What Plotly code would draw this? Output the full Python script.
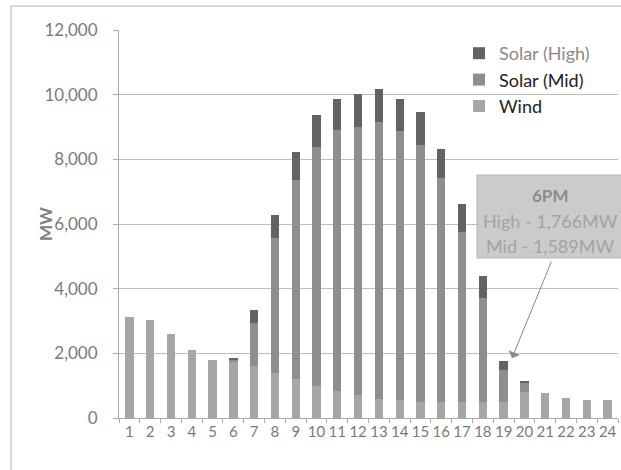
import plotly.graph_objects as go

hours = [str(h) for h in range(1, 25)]
wind = [3120, 3030, 2600, 2100, 1800, 1750, 1600, 1400, 1200, 1000, 850, 700,
        600, 550, 500, 500, 500, 500, 500, 800, 770, 620, 560, 560]
solar_mid = [0, 0, 0, 0, 0, 60, 1340, 4170, 6160, 7380, 8060, 8300,
             8560, 8320, 7940, 6920, 5250, 3210, 980, 310, 0, 0, 0, 0]
solar_high = [0, 0, 0, 0, 0, 50, 400, 710, 870, 990, 960, 1020,
              1020, 1000, 1020, 900, 870, 680, 280, 30, 0, 0, 0, 0]
y_ticks = [0, 2000, 4000, 6000, 8000, 10000, 12000]

FONT = "Lato"
L, T, W, H = 119, 30, 499, 388


def px(x):
    return (x - L) / W


def py(y):
    return (T + H - y) / H


fig = go.Figure()
fig.add_trace(go.Bar(x=hours, y=wind, name="Wind", legendrank=3,
                     marker=dict(color="#a6a6a6", line=dict(width=0))))
fig.add_trace(go.Bar(x=hours, y=solar_mid, name="Solar (Mid)", legendrank=2,
                     marker=dict(color="#8e8e8e", line=dict(width=0))))
fig.add_trace(go.Bar(x=hours, y=solar_high,
                     name="<span style='color:#8a8a8a'>Solar (High)</span>",
                     legendrank=1,
                     marker=dict(color="#636363", line=dict(width=0))))

fig.update_layout(
    barmode="stack",
    bargap=0.6,
    width=621, height=470,
    margin=dict(l=L, r=621 - L - W, t=T, b=470 - T - H),
    paper_bgcolor="white", plot_bgcolor="white",
    font=dict(family=FONT, color="#7a7a7a"),
    showlegend=True,
    legend=dict(x=px(459), y=py(35), xanchor="left", yanchor="top",
                traceorder="normal", tracegroupgap=0,
                font=dict(size=18, color="#222"), bgcolor="rgba(0,0,0,0)",
                itemclick=False),
    xaxis=dict(type="category", tickson="boundaries", ticks="outside",
               ticklen=4, tickcolor="#aaa", showline=True, linecolor="#aaa",
               tickangle=0,
               tickfont=dict(size=15, color="#7a7a7a"), showgrid=False),
    yaxis=dict(range=[0, 12000], tickvals=y_ticks, tickformat=",",
               ticks="outside", ticklen=5, tickcolor="#aaa",
               ticklabelstandoff=12,
               showline=True, linecolor="#aaa", gridcolor="#bdbdbd",
               gridwidth=1, zeroline=False,
               tickfont=dict(size=17, color="#7a7a7a")),
)

# outer chart border
fig.add_shape(type="rect", xref="paper", yref="paper",
              x0=px(11), x1=px(660), y0=py(500), y1=py(6),
              line=dict(color="#b0b0b0", width=1), fillcolor="rgba(0,0,0,0)",
              layer="below")

# y-axis title
fig.add_annotation(text="<b>MW</b>", xref="paper", yref="paper",
                   x=px(45), y=py(224), textangle=-90, showarrow=False,
                   xanchor="center", yanchor="middle",
                   font=dict(size=17, color="#808080"))

# callout box
fig.add_shape(type="rect", xref="paper", yref="paper",
              x0=px(477), x1=px(660), y0=py(258), y1=py(175),
              line=dict(color="#b5b5b5", width=1), fillcolor="#cbcbcb")
for txt, ycen, size, col in [("<b>6PM</b>", 195, 17, "#8c8c8c"),
                             ("High - 1,766MW", 221, 18, "#a3a3a3"),
                             ("Mid - 1,589MW", 246, 18, "#a3a3a3")]:
    fig.add_annotation(text=txt, xref="paper", yref="paper",
                       x=px(550), y=py(ycen), showarrow=False,
                       xanchor="center", yanchor="middle",
                       font=dict(size=size, color=col))

# arrow to hour 19
fig.add_annotation(x=18.4, y=1850, xref="x", yref="y", text="",
                   showarrow=True, ax=40, ay=-98, arrowhead=1,
                   arrowsize=2, arrowwidth=1, arrowcolor="#8a8a8a")

fig.write_html("out.html", config={"displayModeBar": False},
               post_script="document.body.style.margin='0';")
